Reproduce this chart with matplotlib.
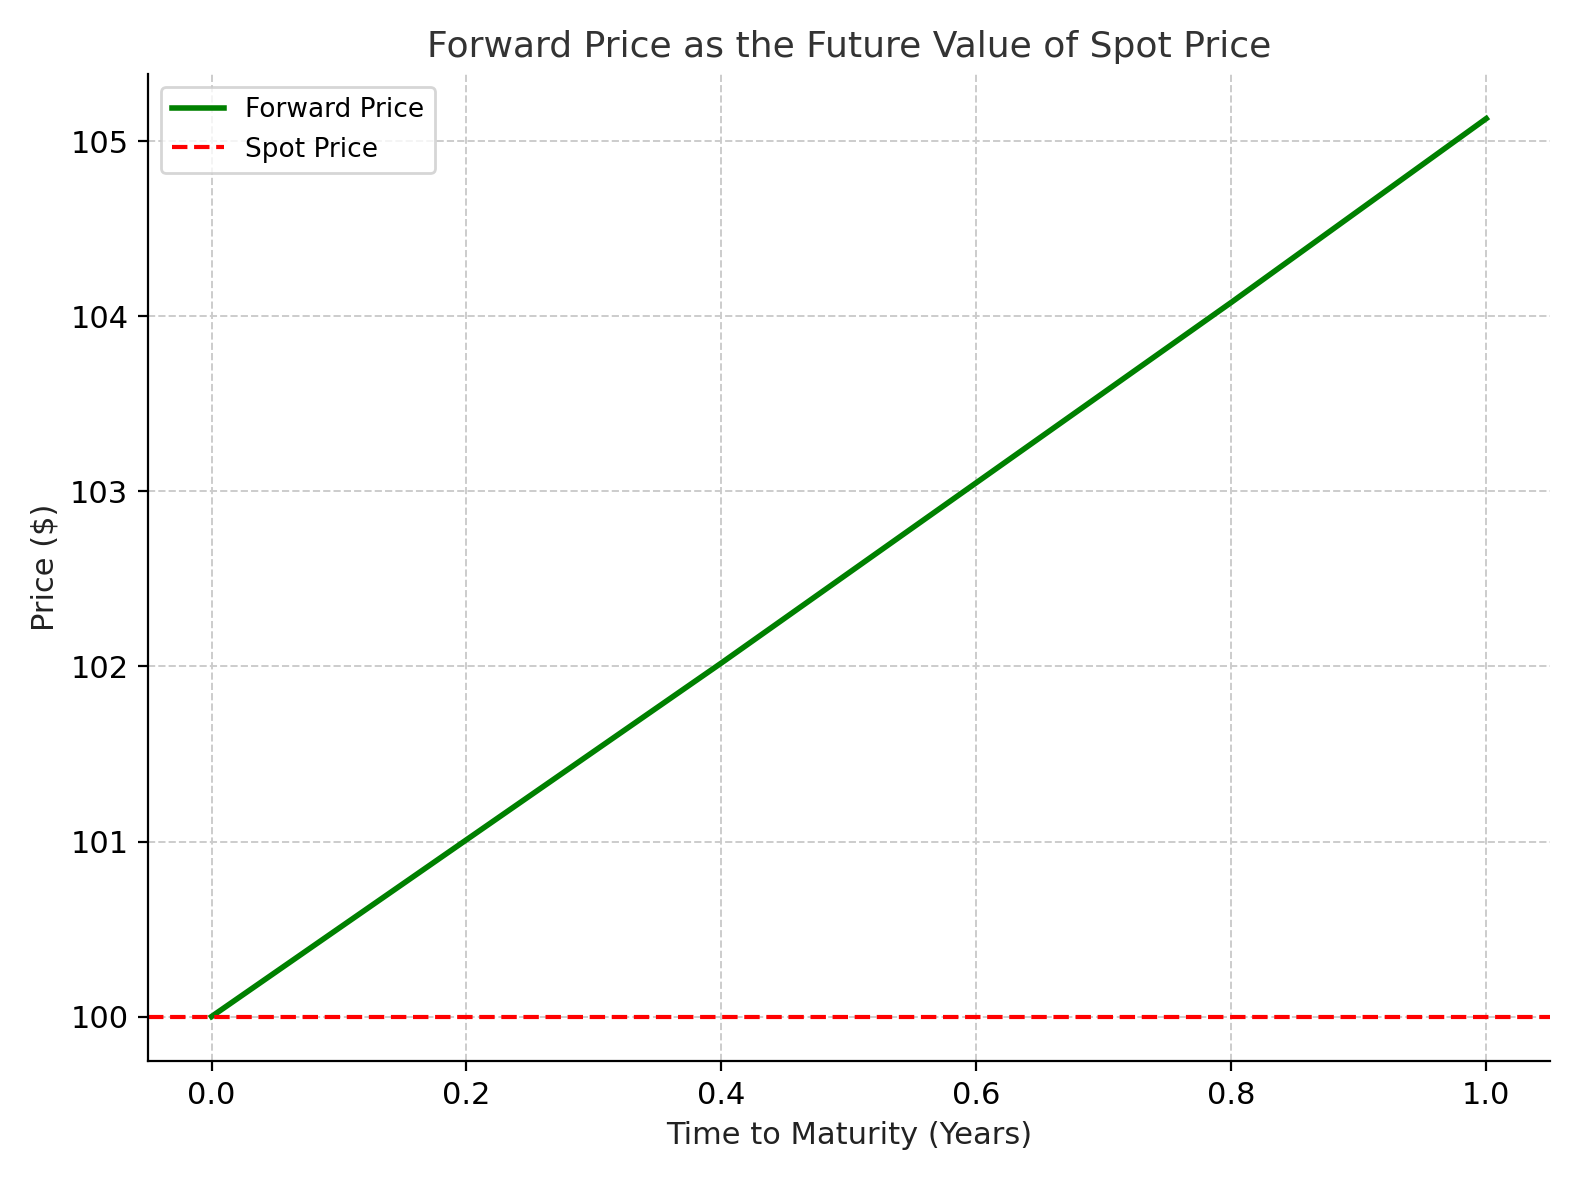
import matplotlib
matplotlib.use("Agg")
import matplotlib.pyplot as plt

years = [0.0, 0.2, 0.4, 0.6, 0.8, 1.0]
forward_price = [100.0, 101.01, 102.02, 103.05, 104.08, 105.13]
spot_price = 100.0

plt.rcParams['font.family'] = ['DejaVu Sans']
fig, ax = plt.subplots(figsize=(7.9, 5.9), dpi=200)
ax.plot(years, forward_price, color='green', lw=2, label='Forward Price')
ax.axhline(spot_price, color='red', ls='--', lw=1.5, label='Spot Price')
ax.set_title('Forward Price as the Future Value of Spot Price', fontsize=13, color='#333333')
ax.set_xlabel('Time to Maturity (Years)', fontsize=11, color='#222222')
ax.set_ylabel('Price ($)', fontsize=11, color='#222222')
ax.tick_params(labelsize=11)
ax.grid(True, ls='--', color='#cccccc', lw=0.7)
for s in ['top', 'right']:
    ax.spines[s].set_visible(False)
ax.legend(loc='upper left', fontsize=9.5, edgecolor='#cccccc')
fig.tight_layout()
fig.savefig('out.png', dpi=200)
